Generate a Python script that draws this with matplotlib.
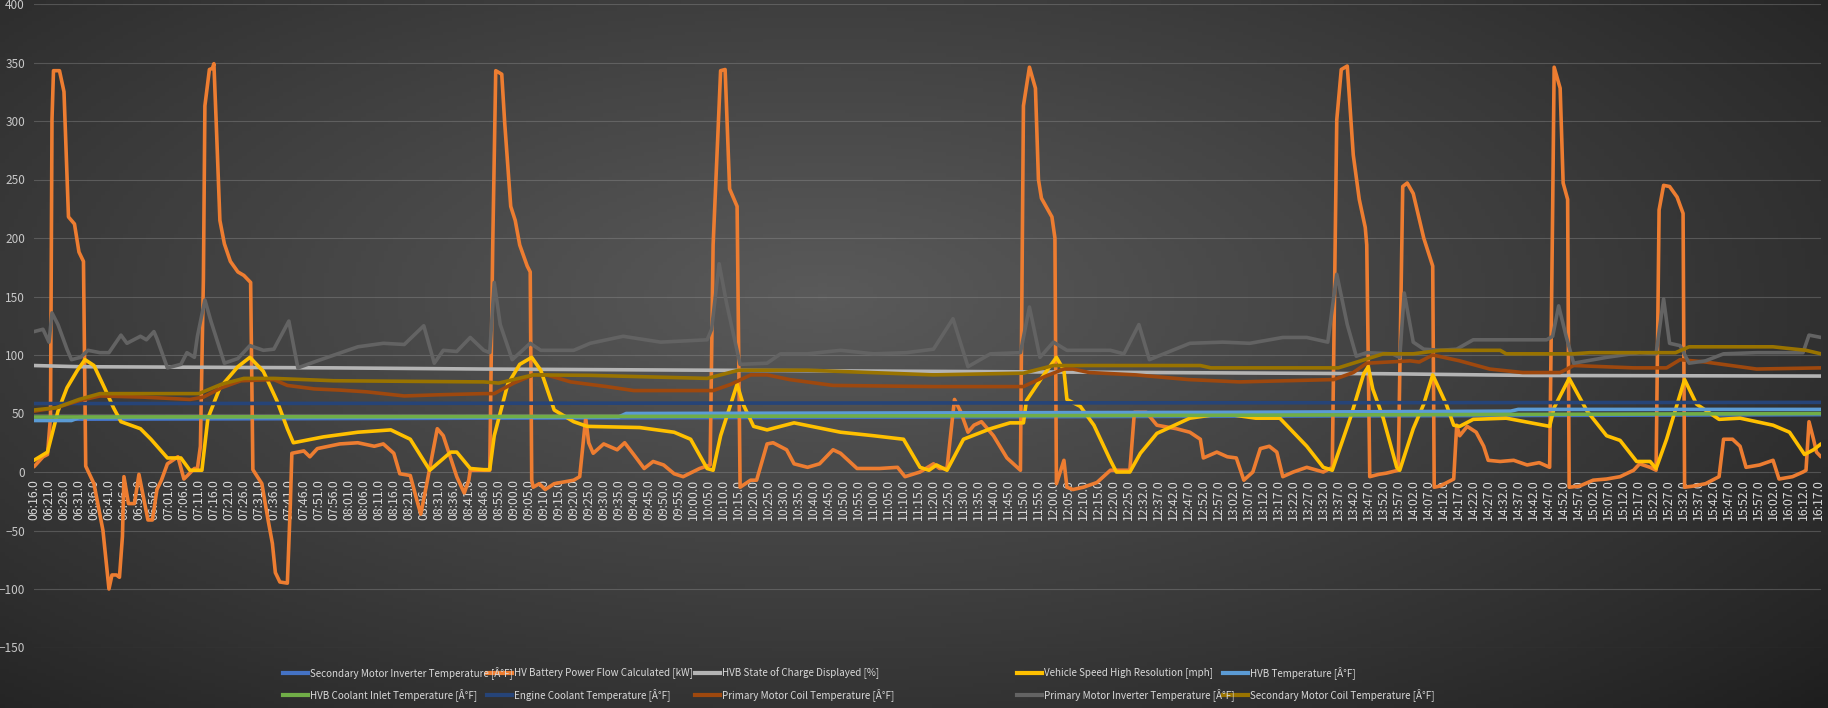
"""
HV battery / motor temperatures over one driving day - dark Excel-style line chart
"""
import numpy as np
import matplotlib
matplotlib.use('Agg')
import matplotlib.pyplot as plt
from matplotlib.lines import Line2D
from matplotlib.colors import LinearSegmentedColormap

# Source-Sans-like latin of Noto CJK is close to the narrow Calibri used by Excel
plt.rcParams['font.family'] = ['Noto Sans CJK SC', 'DejaVu Sans']

W, H, DPI = 1828, 708, 100

# x axis categories (one label every 5 samples); x data below is in label units
tick_labels = [
    '06:16.0', '06:21.0', '06:26.0', '06:31.0', '06:36.0', '06:41.0', '06:46.0', '06:51.0',
    '06:56.0', '07:01.0', '07:06.0', '07:11.0', '07:16.0', '07:21.0', '07:26.0', '07:31.0',
    '07:36.0', '07:41.0', '07:46.0', '07:51.0', '07:56.0', '08:01.0', '08:06.0', '08:11.0',
    '08:16.0', '08:21.0', '08:26.0', '08:31.0', '08:36.0', '08:41.0', '08:46.0',
    '08:55.0', '09:00.0', '09:05.0', '09:10.0', '09:15.0', '09:20.0', '09:25.0', '09:30.0',
    '09:35.0', '09:40.0', '09:45.0', '09:50.0', '09:55.0', '10:00.0', '10:05.0', '10:10.0',
    '10:15.0', '10:20.0', '10:25.0', '10:30.0', '10:35.0', '10:40.0', '10:45.0', '10:50.0',
    '10:55.0', '11:00.0', '11:05.0', '11:10.0', '11:15.0', '11:20.0', '11:25.0', '11:30.0',
    '11:35.0', '11:40.0', '11:45.0', '11:50.0', '11:55.0', '12:00.0', '12:05.0', '12:10.0',
    '12:15.0', '12:20.0', '12:25.0',
    '12:32.0', '12:37.0', '12:42.0', '12:47.0', '12:52.0', '12:57.0', '13:02.0', '13:07.0',
    '13:12.0', '13:17.0', '13:22.0', '13:27.0', '13:32.0', '13:37.0', '13:42.0', '13:47.0',
    '13:52.0', '13:57.0', '14:02.0', '14:07.0', '14:12.0', '14:17.0', '14:22.0', '14:27.0',
    '14:32.0', '14:37.0', '14:42.0', '14:47.0', '14:52.0', '14:57.0', '15:02.0', '15:07.0',
    '15:12.0', '15:17.0', '15:22.0', '15:27.0', '15:32.0', '15:37.0', '15:42.0', '15:47.0',
    '15:52.0', '15:57.0', '16:02.0', '16:07.0', '16:12.0', '16:17.0',
]

# --- series (x = position on the category axis, y = value) ---
sec_inv_x = [0, 60, 119.2]
sec_inv_y = [45, 47, 49]

power_x = [0, 0.6, 0.9, 1.1, 1.2, 1.3, 1.7, 2.0, 2.3, 2.7, 3.0, 3.3, 3.45, 4.0, 4.6, 5.0,
           5.2, 5.5, 5.7, 5.9, 6.0, 6.3, 6.7, 7.0, 7.2, 7.6, 7.9, 8.2, 8.5, 8.9, 9.6, 10.0,
           10.7, 10.9, 11.1, 11.3, 11.4, 11.7, 11.9, 12.0, 12.15, 12.4, 12.7, 13.1, 13.6, 14.0,
           14.45, 14.6, 15.2, 15.6, 15.9, 16.1, 16.4, 16.9, 17.1, 17.2, 18.0, 18.4, 18.9, 20.4,
           21.6, 22.7, 23.3, 24.0, 24.4, 25.1, 25.6, 25.8, 26.2, 26.9, 27.3, 28.2, 28.7, 29.0,
           29.1, 30.0, 30.4, 30.6, 30.8, 31.2, 31.4, 31.8, 32.1, 32.4, 32.9, 33.1, 33.2, 33.3,
           33.7, 34.1, 34.7, 36.0, 36.4, 36.8, 37.0, 37.3, 38.0, 38.9, 39.4, 40.0, 40.7, 41.3,
           42.0, 42.7, 43.3, 44.4, 45.1, 45.3, 45.8, 46.1, 46.4, 46.9, 47.1, 47.8, 48.2, 48.9,
           49.3, 50.2, 50.7, 51.6, 52.4, 53.3, 53.8, 54.9, 56.4, 57.6, 58.1, 59.1, 60.0, 60.4,
           60.9, 61.4, 61.8, 62.3, 62.7, 63.2, 64.0, 64.9, 65.8, 66.0, 66.4, 66.8, 67.0, 67.2,
           67.9, 68.1, 68.2, 68.7, 68.9, 69.3, 70.0, 70.9, 71.8, 73.1, 73.4, 74.2, 74.9, 76.2,
           77.1, 77.8, 78.0, 78.9, 79.6, 80.2, 80.7, 81.3, 81.8, 82.4, 82.9, 83.3, 84.0, 84.9,
           86.0, 86.6, 86.9, 87.2, 87.6, 88.0, 88.4, 88.8, 88.9, 89.1, 89.7, 90.2, 91.0, 91.3,
           91.6, 92.0, 92.7, 93.3, 93.4, 93.8, 94.7, 94.9, 95.1, 95.6, 96.2, 96.7, 97.0, 97.8,
           98.7, 99.6, 100.4, 101.1, 101.3, 101.4, 101.8, 102.0, 102.3, 102.4, 103.1, 104.0,
           104.9, 105.8, 106.7, 107.1, 107.8, 108.2, 108.4, 108.7, 109.1, 109.6, 110.0, 110.1,
           110.7, 111.5, 112.4, 112.7, 113.3, 113.8, 114.2, 115.1, 116.0, 116.4, 117.3, 118.0,
           118.2, 118.4, 118.7, 118.9, 119.2]
power_y = [4.5, 13, 15, 47, 301, 343, 343, 325, 218, 212, 188, 180, 5, -10, -50, -100,
           -88, -88, -90, -55, -4, -27, -27, -2, -15, -41, -41, -15, -7, 7, 13, -6,
           3, 3, 22, 165, 313, 344, 345, 349, 300, 215, 195, 180, 171, 168,
           162, 2, -10, -40, -61, -86, -94, -95, -27, 16, 18, 13, 20, 24,
           25, 22, 24, 16, -1.5, -3, -27, -36, -10, 37, 31, -4, -18, -7,
           1.5, 1.5, 1.5, 194, 343, 340, 298, 227, 215, 194, 176, 171, -7, -13,
           -10, -15, -10, -7, -4, 46, 25, 16, 24, 19, 25, 15, 3, 9,
           6, -1.5, -4, 3, 6, 194, 343, 344, 242, 227, -13, -7, -7, 24,
           25, 19, 7, 4, 7, 19, 16, 3, 3, 4, -4, 0, 7, 3,
           3, 62, 52, 34, 40, 43, 31, 12, 1.5, 313, 346, 328, 250, 234,
           218, 200, -10, 10, -13, -15, -13, -9, 1.5, 1.5, 51, 51, 40, 37,
           34, 28, 12, 17, 13, 12, -7, 0, 20, 22, 17, -4, 0, 4,
           0, 4, 301, 344, 347, 271, 233, 209, 194, -4, -2, -1, 1.5, 244,
           247, 238, 200, 176, -13, -12, -6, 40, 31, 39, 34, 22, 10, 9,
           10, 6, 8, 4, 224, 346, 328, 247, 233, -13, -12, -7,
           -6, -4, 1.5, 7, 4, 1.5, 224, 245, 244, 235, 221, -13,
           -12, -10, -4, 28, 28, 22, 4, 6, 10, -6, -4, 0,
           1.5, 43, 28, 17, 13]

soc_x = [0, 3, 20, 30, 45, 60, 75, 90, 100, 119.2]
soc_y = [91, 90, 89, 88, 87, 86, 85, 84, 82.5, 82]

speed_x = [0, 0.9, 1.1, 1.6, 2.2, 2.9, 3.4, 4.0, 4.7, 5.3, 5.8, 7.1, 7.8, 8.9, 9.8, 10.4,
           11.2, 11.6, 12.4, 13.6, 14.4, 15.3, 16.2, 16.9, 17.3, 19.3, 21.6, 23.8, 25.1, 26.4,
           27.8, 28.2, 29.1, 30.0, 30.4, 30.7, 31.6, 32.4, 33.2, 33.8, 34.7, 36.0, 36.9, 40.4,
           42.7, 43.8, 44.9, 45.3, 45.8, 46.9, 47.3, 48.0, 48.9, 50.7, 53.8, 56.0, 58.0, 59.1,
           59.7, 60.2, 60.9, 62.0, 63.8, 65.1, 66.0, 66.2, 67.3, 68.2, 68.7, 68.9, 69.8, 70.7,
           71.8, 72.2, 73.1, 73.8, 74.9, 77.1, 79.3, 81.5, 83.1, 84.9, 86.0, 86.6, 87.8, 88.7,
           89.0, 89.3, 90.0, 90.9, 91.1, 92.0, 92.7, 93.3, 94.2, 94.7, 95.1, 96.0, 98.2, 101.1,
           101.4, 102.4, 103.6, 104.9, 105.8, 106.9, 107.8, 108.2, 108.9, 110.1, 110.9, 112.4,
           113.8, 116.0, 117.1, 118.1, 118.7, 119.2]
speed_y = [10, 17, 27, 52, 72, 87, 96, 91, 72, 55, 43, 37, 28, 12, 12, 1.5,
           1.5, 46, 72, 90, 98, 86, 61, 37, 25, 30, 34, 36, 28, 1.5,
           17, 17, 3, 2, 2, 31, 75, 92, 98, 87, 53, 43, 39, 38,
           34, 28, 3, 1.5, 31, 75, 58, 39, 36, 42, 34, 31, 28, 4,
           1.5, 6, 1.5, 28, 37, 42, 42, 61, 82, 98, 87, 62, 56, 40,
           10, 0, 0, 16, 33, 46, 50, 46, 46, 22, 4, 1.5, 46, 84,
           90, 71, 46, 4, 1.5, 37, 58, 83, 58, 40, 39, 45, 46, 39,
           55, 80, 52, 31, 27, 9, 9, 3, 28, 79, 58, 45,
           46, 40, 34, 15, 19, 24]

hvb_temp_x = [0, 2.5, 3.0, 39.0, 39.5, 80, 98.5, 99.0, 119.2]
hvb_temp_y = [44, 44, 46.5, 47, 50, 51, 52, 53.5, 53.5]

coolant_in_x = [0, 40, 80, 119.2]
coolant_in_y = [47, 47.5, 48.5, 50]

engine_cool_x = [0, 60, 119.2]
engine_cool_y = [58.5, 59, 59.5]

prim_coil_x = [0, 1.5, 3.0, 4.4, 7.3, 10.4, 11.3, 12.5, 13.8, 16.0, 16.9, 18.7, 20.4, 22.2,
               24.7, 27.0, 30.0, 30.7, 32.0, 33.3, 34.2, 35.8, 38.2, 40.0, 45.3, 46.5, 47.8,
               48.9, 50.4, 53.3, 60.0, 66.0, 67.5, 68.7, 69.3, 70.4, 73.5, 77.0, 80.4, 86.7,
               88.0, 88.9, 91.8, 92.4, 93.3, 95.1, 97.1, 99.3, 101.8, 102.7, 106.7, 108.9,
               109.8, 111.5, 114.9, 119.2]
prim_coil_y = [52, 55, 61, 65, 64, 62, 64, 72, 78, 79, 74, 71, 70, 68.5,
               65, 66, 67, 67, 76, 83, 83, 77, 73, 69.6, 69.6, 75, 83,
               83, 79, 74, 73, 73, 82, 88, 88, 85, 83, 79, 77, 79,
               85, 93, 95, 94, 100, 95, 88, 85, 85, 91, 89, 89,
               96, 94, 88, 89]

prim_inv_x = [0, 0.6, 1.0, 1.2, 1.6, 2.2, 2.5, 3.1, 3.6, 4.4, 5.0, 5.8, 6.2, 7.1, 7.5, 8.0,
              8.2, 8.9, 9.8, 10.2, 10.7, 10.9, 11.4, 11.8, 12.7, 13.6, 14.4, 15.3, 16.0, 17.0,
              17.6, 18.9, 21.6, 23.3, 24.7, 26.0, 26.7, 27.3, 28.2, 29.1, 30.0, 30.4, 30.7,
              31.1, 31.9, 33.1, 33.8, 36.0, 37.1, 39.3, 41.8, 44.9, 45.2, 45.7, 46.2, 47.1,
              48.9, 49.8, 51.6, 53.8, 56.0, 58.2, 60.0, 61.3, 62.3, 63.8, 65.8, 66.4, 67.1,
              68.0, 68.9, 71.8, 72.7, 73.7, 74.4, 77.1, 79.3, 81.1, 83.3, 84.9, 86.3, 86.9,
              87.6, 88.2, 88.9, 90.6, 91.1, 91.4, 92.0, 92.7, 93.8, 94.9, 96.0, 100.9, 101.3,
              101.7, 102.2, 102.7, 104.9, 107.1, 108.2, 108.7, 109.1, 109.8, 110.4, 111.5,
              112.7, 114.9, 118.0, 118.4, 119.2]
prim_inv_y = [120, 122, 111, 136, 126, 105, 96, 98, 104, 102, 102, 117, 110, 116, 113, 120,
              114, 89, 92, 102, 98, 116, 147, 129, 93, 97, 108, 104, 105, 129,
              89, 95, 107, 110, 109, 125, 93, 104, 103, 115, 104, 102, 162,
              126, 96, 110, 104, 104, 110, 116, 111, 113, 122, 178, 144, 92,
              93, 101, 101, 104, 101, 102, 105, 131, 90, 101, 102, 141, 98,
              111, 104, 104, 101, 126, 96, 110, 111, 110, 115, 115, 111, 169,
              126, 99, 102, 101, 98, 153, 111, 105, 104, 105, 113, 113, 116,
              142, 116, 93, 98, 102, 101, 148, 110, 108, 93, 95,
              101, 102, 102, 117, 115]

sec_coil_x = [0, 1.5, 3.0, 4.4, 11.0, 12.5, 14.0, 16.0, 18.0, 20.0, 30.0, 31.0, 33.3, 37.1,
              44.9, 47.0, 51.6, 60.0, 66.0, 68.0, 77.8, 78.5, 87.0, 90.0, 92.0, 93.8, 97.8,
              98.2, 102.7, 103.8, 109.5, 110.4, 116.0, 118.2, 119.2]
sec_coil_y = [53, 55, 62, 67, 67, 75, 80, 80, 79, 78, 77, 76, 83, 82.6,
              80, 87, 87, 83, 84.5, 91, 91, 89, 89, 101, 101, 104, 104,
              101, 101, 102, 102, 107, 107, 104, 101]

series = [
    ('Secondary Motor Inverter Temperature [Â°F]', sec_inv_x, sec_inv_y, '#4472C4'),
    ('HV Battery Power Flow Calculated [kW]', power_x, power_y, '#ED7D31'),
    ('HVB State of Charge Displayed [%]', soc_x, soc_y, '#B4B4B4'),
    ('Vehicle Speed High Resolution [mph]', speed_x, speed_y, '#FFC000'),
    ('HVB Temperature [Â°F]', hvb_temp_x, hvb_temp_y, '#5B9BD5'),
    ('HVB Coolant Inlet Temperature [Â°F]', coolant_in_x, coolant_in_y, '#70AD47'),
    ('Engine Coolant Temperature [Â°F]', engine_cool_x, engine_cool_y, '#264478'),
    ('Primary Motor Coil Temperature [Â°F]', prim_coil_x, prim_coil_y, '#9E480E'),
    ('Primary Motor Inverter Temperature [Â°F]', prim_inv_x, prim_inv_y, '#636363'),
    ('Secondary Motor Coil Temperature [Â°F]', sec_coil_x, sec_coil_y, '#997300'),
]

fig = plt.figure(figsize=(W / DPI, H / DPI), dpi=DPI)

# radial dark background like the Excel chart style
bg = fig.add_axes([0, 0, 1, 1], zorder=-10)
gx, gy = np.meshgrid(np.linspace(0, 1, 400), np.linspace(0, 1, 200))
r = np.sqrt(((gx - 0.45) / 0.75) ** 2 + ((gy - 0.42) / 0.85) ** 2)
shade = np.clip(1 - r, 0, 1) ** 0.9
cmap = LinearSegmentedColormap.from_list('bg', ['#1e1e1e', '#5a5a5a'])
bg.imshow(shade, cmap=cmap, aspect='auto', extent=[0, 1, 0, 1], vmin=0, vmax=1)
bg.axis('off')

ax = fig.add_axes([34 / W, (H - 647.5) / H, (1821 - 34) / W, (647.5 - 4) / H])
ax.patch.set_alpha(0)
# category axis crosses at 0 (set before tick labels: this resets the ticks)
ax.spines['bottom'].set_position(('data', 0))
for sp in ax.spines.values():
    sp.set_visible(False)

lines = []
for i, (label, xs, ys, color) in enumerate(series):
    ln, = ax.plot(xs, ys, color=color, lw=2.6, solid_joinstyle='round',
                  solid_capstyle='round', zorder=3 + i)
    lines.append(ln)

ax.set_ylim(-150, 400)
ax.set_xlim(0, 119.2)
ax.set_yticks(range(-150, 401, 50))
ax.grid(axis='y', color='#9a9a9a', alpha=0.35, lw=0.8)
ax.set_axisbelow(True)

ax.set_xticks(range(len(tick_labels)))
ax.set_xticklabels(tick_labels, rotation=90, fontsize=8.8, color='#d9d9d9')
ax.tick_params(axis='x', length=0, pad=5)
ax.tick_params(axis='y', length=0, pad=6.5, labelsize=8.5, labelcolor='#c8c8c8')

# legend: 2 rows x 5 columns, same order as Excel
col_x = [283, 487, 695, 1017, 1223]
row_y = [673, 695]
for i, ln in enumerate(lines):
    x0 = col_x[i % 5]
    y0 = row_y[i // 5]
    fig.add_artist(Line2D([x0 / W, (x0 + 25) / W], [1 - y0 / H, 1 - y0 / H],
                          color=ln.get_color(), lw=3))
    fig.text((x0 + 27) / W, 1 - y0 / H, series[i][0], fontsize=7.1,
             color='#d9d9d9', va='center', ha='left')

fig.savefig('out.png', dpi=DPI)
plt.close(fig)
